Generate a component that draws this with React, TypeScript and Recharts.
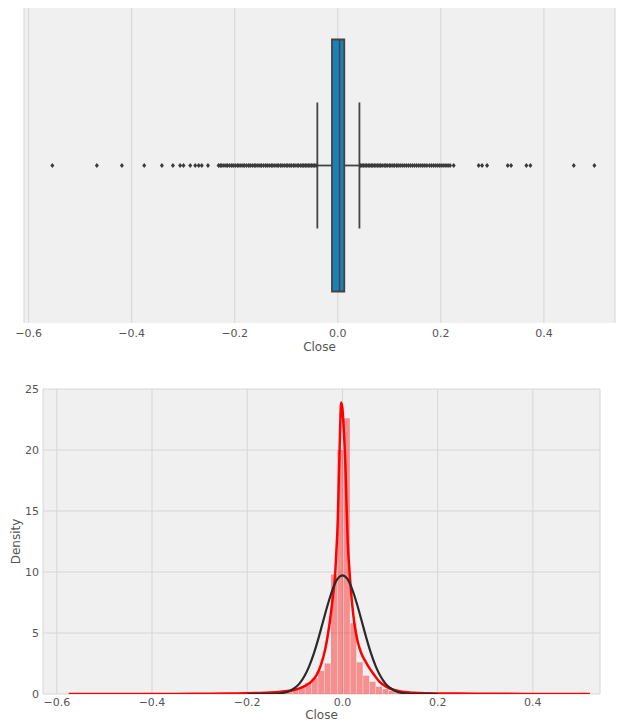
import React from "react";
import {
  ComposedChart,
  Scatter,
  Bar,
  Line,
  XAxis,
  YAxis,
  CartesianGrid,
  ReferenceArea,
  ReferenceLine,
  Label,
} from "recharts";

/* ---------- Data ---------- */

const closeTicks = [-0.6, -0.4, -0.2, 0, 0.2, 0.4];
const densityTicks = [0, 5, 10, 15, 20, 25];

// lower whisker, q1, median, q3, upper whisker
const boxSummary = [-0.0397, -0.0113, 0.0035, 0.0126, 0.042];

const outliers = [
  -0.554, -0.4676, -0.419, -0.3757, -0.3414, -0.32, -0.306, -0.2994, -0.2864,
  -0.2767, -0.27, -0.264, -0.252, -0.2314, -0.228, -0.225, -0.221, -0.217,
  -0.214, -0.21, -0.206, -0.203, -0.199, -0.195, -0.192, -0.188, -0.184, -0.181,
  -0.177, -0.173, -0.17, -0.166, -0.162, -0.159, -0.155, -0.151, -0.148, -0.144,
  -0.14, -0.137, -0.133, -0.129, -0.126, -0.122, -0.118, -0.115, -0.111,
  -0.108, -0.104, -0.1, -0.097, -0.093, -0.09, -0.086, -0.083, -0.079, -0.076,
  -0.072, -0.069, -0.066, -0.063, -0.06, -0.057, -0.054, -0.051, -0.048,
  -0.045, -0.042, 0.044, 0.047, 0.05, 0.053, 0.056, 0.059, 0.062, 0.065, 0.068,
  0.071, 0.074, 0.077, 0.08, 0.083, 0.086, 0.09, 0.093, 0.096, 0.1, 0.103,
  0.107, 0.11, 0.114, 0.117, 0.121, 0.125, 0.129, 0.133, 0.137, 0.141, 0.145,
  0.149, 0.153, 0.157, 0.161, 0.165, 0.169, 0.173, 0.178, 0.182, 0.186, 0.19,
  0.194, 0.198, 0.202, 0.206, 0.21, 0.214, 0.218, 0.2249, 0.2734, 0.28, 0.2897,
  0.3298, 0.3363, 0.366, 0.3738, 0.458, 0.498,
];

const binCenters = [
  -0.12525, -0.11175, -0.09825, -0.08475, -0.07125, -0.05775, -0.04425,
  -0.03075, -0.01725, -0.00375, 0.00975, 0.02325, 0.03675, 0.05025, 0.06375,
  0.07725, 0.09075, 0.10425, 0.11775, 0.13125,
];
const binDensity = [
  0.15, 0.2, 0.35, 0.55, 0.9, 1.3, 1.9, 2.5, 9.8, 20.0, 22.6, 5.8, 2.6, 1.5,
  1.0, 0.6, 0.4, 0.25, 0.15, 0.1,
];

const kdeX = [
  -0.575, -0.45, -0.35, -0.28, -0.22, -0.18, -0.15, -0.12, -0.1, -0.085,
  -0.075, -0.066, -0.055, -0.045, -0.036, -0.027, -0.02, -0.015, -0.013, -0.01,
  -0.007, -0.005, -0.0027, 0, 0.003, 0.006, 0.009, 0.011, 0.014, 0.018, 0.025,
  0.032, 0.04, 0.048, 0.057, 0.067, 0.078, 0.09, 0.1, 0.12, 0.15, 0.18, 0.22,
  0.28, 0.38, 0.52,
];
const kdeY = [
  0, 0.005, 0.01, 0.02, 0.05, 0.08, 0.12, 0.22, 0.35, 0.55, 0.75, 1.0, 1.5, 2.4,
  3.7, 5.8, 8.0, 10.0, 11.5, 14.0, 18.5, 21.5, 23.9, 23.4, 21.5, 19.0, 15.0,
  12.5, 10.5, 8.4, 5.8, 4.3, 3.3, 2.7, 2.1, 1.55, 1.0, 0.65, 0.45, 0.22, 0.1,
  0.06, 0.04, 0.02, 0.01, 0,
];

const normX = [
  -0.2, -0.15, -0.13, -0.12, -0.11, -0.1, -0.09, -0.08, -0.07, -0.06, -0.05,
  -0.04, -0.03, -0.02, -0.01, 0, 0.01, 0.02, 0.03, 0.04, 0.05, 0.06, 0.07, 0.08,
  0.09, 0.1, 0.11, 0.12, 0.13, 0.15, 0.2,
];
const normY = [
  0, 0.01, 0.06, 0.13, 0.27, 0.5, 0.87, 1.45, 2.27, 3.33, 4.62, 6.05, 7.44, 8.64,
  9.45, 9.73, 9.45, 8.64, 7.44, 6.05, 4.62, 3.33, 2.27, 1.45, 0.87, 0.5, 0.27,
  0.13, 0.06, 0.01, 0,
];

/* ---------- Helpers ---------- */

const outlierData = outliers.map((x) => ({ x, y: 0 }));
const histData = binCenters.map((x, i) => ({ x, density: binDensity[i] }));
const kdeData = kdeX.map((x, i) => ({ x, y: kdeY[i] }));
const normData = normX.map((x, i) => ({ x, y: normY[i] }));

const fmt = (v: number) => (v < 0 ? "\u2212" : "") + Math.abs(v).toFixed(1);

const tickStyle = { fontSize: 11, fill: "#555" };
const labelStyle = { fontSize: 12, fill: "#555" };
const boxLine = "#444";

const Flier = (props: any) => {
  const { cx, cy } = props;
  return (
    <path
      d={`M${cx},${cy - 2.6}L${cx + 2},${cy}L${cx},${cy + 2.6}L${cx - 2},${cy}Z`}
      fill="#3a3a3a"
    />
  );
};

/* ---------- Component ---------- */

export default function App() {
  const [wLo, q1, med, q3, wHi] = boxSummary;
  return (
    <div
      style={{
        position: "absolute",
        left: 0,
        top: 0,
        width: 618,
        height: 722,
        background: "#fff",
        fontFamily: '"DejaVu Sans", sans-serif',
      }}
    >
      <ComposedChart
        width={618}
        height={360}
        margin={{ top: 8, right: 3, left: 24, bottom: 0 }}
      >
        <CartesianGrid horizontal={false} stroke="#d6d6d6" fill="#f0f0f0" />
        <XAxis
          type="number"
          dataKey="x"
          domain={[-0.609, 0.538]}
          ticks={closeTicks}
          allowDataOverflow
          axisLine={false}
          tickLine={false}
          tickSize={0}
          tickMargin={6}
          height={37}
          tick={tickStyle}
          tickFormatter={fmt}
        >
          <Label value="Close" position="insideBottom" offset={9} style={labelStyle} />
        </XAxis>
        <YAxis type="number" dataKey="y" domain={[-0.5, 0.5]} hide />
        <ReferenceLine
          segment={[{ x: wLo, y: 0 }, { x: q1, y: 0 }]}
          stroke={boxLine}
          strokeWidth={1.8}
        />
        <ReferenceLine
          segment={[{ x: q3, y: 0 }, { x: wHi, y: 0 }]}
          stroke={boxLine}
          strokeWidth={1.8}
        />
        <ReferenceLine
          segment={[{ x: wLo, y: -0.2 }, { x: wLo, y: 0.2 }]}
          stroke={boxLine}
          strokeWidth={1.8}
        />
        <ReferenceLine
          segment={[{ x: wHi, y: -0.2 }, { x: wHi, y: 0.2 }]}
          stroke={boxLine}
          strokeWidth={1.8}
        />
        <ReferenceArea
          x1={q1}
          x2={q3}
          y1={-0.4}
          y2={0.4}
          fill="#1a82b8"
          fillOpacity={1}
          stroke={boxLine}
          strokeWidth={1.8}
        />
        <ReferenceLine
          segment={[{ x: med, y: -0.4 }, { x: med, y: 0.4 }]}
          stroke={boxLine}
          strokeWidth={1.5}
        />
        <Scatter data={outlierData} shape={<Flier />} isAnimationActive={false} />
      </ComposedChart>

      <div style={{ position: "absolute", left: 0, top: 360 }}>
        <ComposedChart
          width={618}
          height={362}
          data={histData}
          margin={{ top: 29, right: 18, left: 8, bottom: 0 }}
          barCategoryGap={0}
          barGap={0}
        >
          <CartesianGrid xAxisId="main" stroke="#d6d6d6" fill="#f0f0f0" />
          <XAxis
            xAxisId="hist"
            orientation="top"
            type="number"
            dataKey="x"
            domain={[-0.629, 0.541]}
            allowDataOverflow
            hide
          />
          <XAxis
            xAxisId="main"
            type="number"
            dataKey="x"
            domain={[-0.629, 0.541]}
            ticks={closeTicks}
            allowDataOverflow
            axisLine={false}
            tickLine={false}
            tickSize={0}
            tickMargin={4}
            height={28}
            tick={tickStyle}
            tickFormatter={fmt}
          >
            <Label value="Close" position="insideBottom" offset={3} style={labelStyle} />
          </XAxis>
          <YAxis
            type="number"
            domain={[0, 25]}
            ticks={densityTicks}
            allowDataOverflow
            width={35}
            axisLine={false}
            tickLine={false}
            tickSize={0}
            tickMargin={4}
            tick={tickStyle}
          >
            <Label
              value="Density"
              angle={-90}
              position="insideLeft"
              offset={8}
              style={{ ...labelStyle, textAnchor: "middle" }}
            />
          </YAxis>
          <Bar
            xAxisId="hist"
            dataKey="density"
            fill="#ff0000"
            fillOpacity={0.4}
            isAnimationActive={false}
          />
          <Line
            xAxisId="main"
            data={kdeData}
            dataKey="y"
            type="monotone"
            stroke="#ff0000"
            strokeWidth={2.5}
            dot={false}
            isAnimationActive={false}
          />
          <Line
            xAxisId="main"
            data={normData}
            dataKey="y"
            type="monotone"
            stroke="#2b2b2b"
            strokeWidth={2.2}
            dot={false}
            isAnimationActive={false}
          />
        </ComposedChart>
      </div>
    </div>
  );
}
